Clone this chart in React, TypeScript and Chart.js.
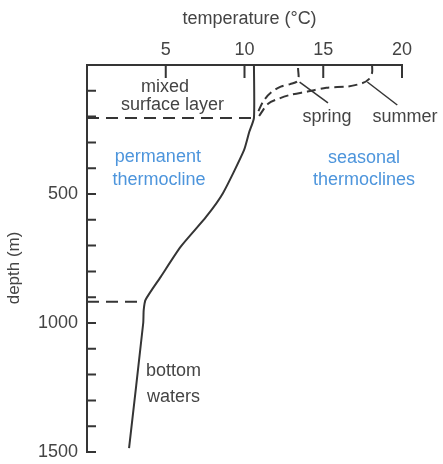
import React, { useEffect, useRef } from "react";
import { Chart, registerables } from "chart.js";

Chart.register(...registerables);

// ---- data (temperature °C vs depth m) ----
const mainTemps = [10.6, 10.6, 10.3, 9.97, 8.63, 7.56, 5.94, 4.67, 3.72, 3.6, 3.57, 2.67];
const mainDepths = [0, 205, 260, 330, 497, 589, 705, 822, 910, 950, 1000, 1485];

const springTemps = [13.4, 13.4, 12.9, 12.3, 11.7, 11.2, 10.8];
const springDepths = [12, 60, 74, 84, 106, 140, 190];

const summerTemps = [18.1, 18.1, 17.9, 17.5, 16.6, 15.2, 14.0, 12.9, 12.2, 11.5, 10.9];
const summerDepths = [0, 30, 55, 70, 83, 88, 103, 116, 130, 150, 200];

const springLeaderTemps = [13.5, 15.3];
const springLeaderDepths = [66, 147];
const summerLeaderTemps = [17.8, 19.7];
const summerLeaderDepths = [66, 155];

const mixedBaseTemps = [0, 10.6];
const mixedBaseDepths = [205, 205];
const thermoBaseTemps = [0, 3.7];
const thermoBaseDepths = [918, 918];

const xTickValues = [5, 10, 15, 20];
const yTickValues = [100, 200, 300, 400, 500, 600, 700, 800, 900, 1000, 1100, 1200, 1300, 1400, 1500];
const yLabelValues = [500, 1000, 1500];

const noteTexts = ["mixed", "surface layer", "spring", "summer", "permanent", "thermocline", "seasonal", "thermoclines", "bottom", "waters"];
const noteTemps = [4.95, 5.43, 15.24, 20.19, 4.5, 4.57, 17.59, 17.59, 5.49, 5.49];
const noteDepths = [105, 174, 221, 221, 376, 465, 380, 465, 1205, 1306];
const noteBlue = [false, false, false, false, true, true, true, true, false, false];

const INK = "#353535";
const TEXT = "#444444";
const BLUE = "#4d95dc";
const FONT = '"Liberation Sans", Arial, sans-serif';

const pts = (xs: number[], ys: number[]) => xs.map((v, i) => ({ x: v, y: ys[i] }));

const overlay = {
  id: "overlay",
  afterDraw(chart: any) {
    const { ctx } = chart;
    const x = chart.scales.x;
    const y = chart.scales.y;
    ctx.save();
    ctx.strokeStyle = INK;
    ctx.lineWidth = 2;
    ctx.beginPath();
    xTickValues.forEach((v) => {
      const px = x.getPixelForValue(v);
      ctx.moveTo(px, y.top);
      ctx.lineTo(px, y.top + 13);
    });
    yTickValues.forEach((v) => {
      const py = y.getPixelForValue(v);
      ctx.moveTo(x.left, py);
      ctx.lineTo(x.left + 9, py);
    });
    ctx.stroke();
    ctx.font = `18px ${FONT}`;
    ctx.textAlign = "center";
    ctx.textBaseline = "alphabetic";
    noteTexts.forEach((t, i) => {
      ctx.fillStyle = noteBlue[i] ? BLUE : TEXT;
      ctx.fillText(t, x.getPixelForValue(noteTemps[i]), y.getPixelForValue(noteDepths[i]));
    });
    ctx.restore();
  },
};

export default function App() {
  const ref = useRef<HTMLCanvasElement>(null);
  useEffect(() => {
    if (!ref.current) return;
    const solid = { borderColor: INK, borderWidth: 2, pointRadius: 0, showLine: true, fill: false, clip: false as any };
    const chart = new Chart(ref.current, {
      type: "scatter",
      data: {
        datasets: [
          { ...solid, label: "temperature profile", data: pts(mainTemps, mainDepths), tension: 0.2 },
          { ...solid, label: "spring", data: pts(springTemps, springDepths), tension: 0.3, borderDash: [9, 5] },
          { ...solid, label: "summer", data: pts(summerTemps, summerDepths), tension: 0.3, borderDash: [9, 5] },
          { ...solid, label: "spring leader", data: pts(springLeaderTemps, springLeaderDepths), borderWidth: 1.5 },
          { ...solid, label: "summer leader", data: pts(summerLeaderTemps, summerLeaderDepths), borderWidth: 1.5 },
          { ...solid, label: "mixed layer base", data: pts(mixedBaseTemps, mixedBaseDepths), borderDash: [12, 7] },
          { ...solid, label: "thermocline base", data: pts(thermoBaseTemps, thermoBaseDepths), borderDash: [12, 7] },
        ],
      },
      options: {
        responsive: false,
        animation: false,
        layout: { padding: { left: 0, top: 0, right: 41, bottom: 12 } },
        plugins: { legend: { display: false }, tooltip: { enabled: false } },
        scales: {
          x: {
            type: "linear",
            position: "top",
            min: 0,
            max: 20,
            afterFit: (s: any) => { s.height = 65; s.paddingLeft = 0; s.paddingRight = 0; },
            grid: { display: false, drawTicks: false },
            border: { display: true, color: INK, width: 2 },
            ticks: {
              stepSize: 5,
              padding: 4,
              color: TEXT,
              font: { size: 18, family: FONT },
              callback: (v: any) => (xTickValues.includes(Number(v)) ? String(v) : ""),
            },
            title: { display: true, text: "  temperature (°C)", color: TEXT, font: { size: 18, family: FONT }, padding: { top: 8, bottom: 0 } },
          },
          y: {
            type: "linear",
            reverse: true,
            min: 0,
            max: 1500,
            afterFit: (s: any) => { s.width = 87; s.paddingTop = 0; s.paddingBottom = 0; },
            grid: { display: false, drawTicks: false },
            border: { display: true, color: INK, width: 2 },
            ticks: {
              stepSize: 100,
              autoSkip: false,
              padding: 9,
              color: TEXT,
              font: { size: 18, family: FONT },
              callback: (v: any) => (yLabelValues.includes(Number(v)) ? String(v) : ""),
            },
            title: { display: true, text: "depth (m)    ", color: TEXT, font: { size: 17, family: FONT }, padding: { top: 4, bottom: 0 } },
          },
        },
      },
      plugins: [overlay],
    });
    return () => chart.destroy();
  }, []);
  return (
    <div style={{ position: "fixed", left: 0, top: 0, width: 443, height: 464, background: "#fff" }}>
      <canvas ref={ref} width={443} height={464} />
    </div>
  );
}
